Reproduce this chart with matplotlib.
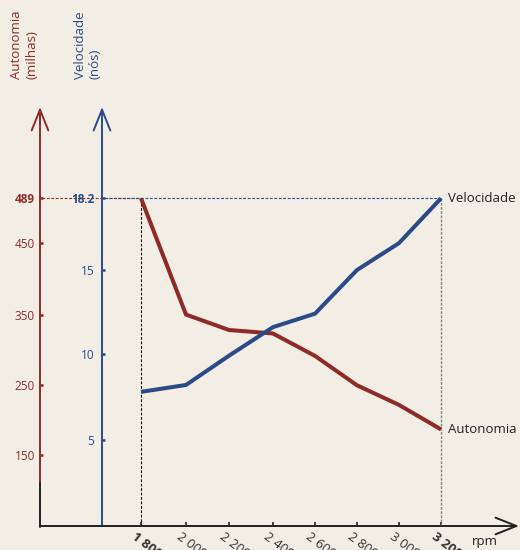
import numpy as np
import matplotlib
matplotlib.use("Agg")
import matplotlib.pyplot as plt
from matplotlib.transforms import ScaledTranslation

# ---- data ----
rpm = [1800, 2000, 2200, 2400, 2600, 2800, 3000, 3200]
rpm_labels = ["1 800", "2 000", "2 200", "2 400", "2 600", "2 800", "3 000", "3 200"]
autonomia = [489, 351, 329, 324, 292, 250, 222, 187]
velocidade = [7.8, 8.2, 9.9, 11.6, 12.4, 15.0, 16.2, 18.2]
auto_ticks = [150, 250, 350, 450, 489]
vel_ticks = [5, 10, 15, 18.2]
vel_tick_labels = ["5", "10", "15", "18.2"]

BG = "#f2ede5"
RED = "#8e2b25"
BLUE = "#2b4a88"
DARK = "#222222"
FONT = "Open Sans"

plt.rcParams['font.family'] = [FONT, 'DejaVu Sans']

# non-uniform axis scales as drawn in the reference
x_vals = [1000, 1800, 2000, 2200, 2400, 2600, 2800, 3000, 3200, 4000]
x_px = [-30.4, 141, 186, 229, 273, 315, 357, 399, 441, 612.4]
a_vals = [0, 150, 250, 350, 450, 489, 800]
a_h = [-34.3, 70.7, 140.7, 210.7, 282.7, 327.7, 686.6]
v_vals = [0, 5, 10, 15, 18.2, 40]
v_h = [0, 86, 172, 256, 327.7, 816]

def x_fwd(v):
    return np.interp(v, x_vals, x_px)
def x_inv(p):
    return np.interp(p, x_px, x_vals)
def a_fwd(v):
    return np.interp(v, a_vals, a_h)
def a_inv(h):
    return np.interp(h, a_h, a_vals)
def v_fwd(v):
    return np.interp(v, v_vals, v_h)
def v_inv(h):
    return np.interp(h, v_h, v_vals)

W, H = 520, 550
fig = plt.figure(figsize=(5.2, 5.5), dpi=100, facecolor=BG)
ax = fig.add_axes([40 / W, 24 / H, 479 / W, 526 / H])
ax.set_facecolor(BG)
ax.set_xscale('function', functions=(x_fwd, x_inv))
ax.set_xlim(float(x_inv(40)), float(x_inv(519)))
ax.set_yscale('function', functions=(a_fwd, a_inv))
ax.set_ylim(float(a_inv(0)), float(a_inv(526)))

ax2 = ax.twinx()
ax2.set_yscale('function', functions=(v_fwd, v_inv))
ax2.set_ylim(0, float(v_inv(526)))
ax2.patch.set_visible(False)

for a in (ax, ax2):
    for s in a.spines.values():
        s.set_visible(False)

# red axis ticks
ax.set_yticks(auto_ticks)
ax.set_yticklabels([str(t) for t in auto_ticks])
ax.tick_params(axis='y', direction='in', length=2.2, width=1.8, color=RED,
               labelcolor=RED, labelsize=8.5, pad=3.6)
for lab in ax.get_yticklabels():
    if lab.get_text() == "489":
        lab.set_fontweight('bold')

# blue axis ticks
ax2.yaxis.set_ticks_position('left')
ax2.yaxis.set_label_position('left')
ax2.spines['left'].set_position(('axes', 62 / 479))
ax2.set_yticks(vel_ticks)
ax2.set_yticklabels(vel_tick_labels)
ax2.tick_params(axis='y', direction='in', length=2.2, width=1.8, color=BLUE,
                labelcolor=BLUE, labelsize=8.5, pad=5.5)
for lab in ax2.get_yticklabels():
    if lab.get_text() == "18.2":
        lab.set_fontweight('bold')

# x ticks
ax.set_xticks(rpm)
ax.set_xticklabels(rpm_labels, rotation=-37, ha='left', va='top',
                   rotation_mode='anchor')
ax.tick_params(axis='x', direction='in', length=3, width=1.2, color=DARK,
               labelcolor="#333333", labelsize=9.5, pad=3)
shift = ScaledTranslation(-4 / 100, 0, fig.dpi_scale_trans)
for lab in ax.get_xticklabels():
    lab.set_transform(lab.get_transform() + shift)
    if lab.get_text() in ("1 800", "3 200"):
        lab.set_fontweight('bold')

# guide lines
ax.hlines(489, float(x_inv(42)), 1800, colors=RED, linestyles=(0, (2.5, 1.5)), lw=0.8)
ax2.hlines(18.2, float(x_inv(105)), 3200, colors=BLUE, linestyles=(0, (2.5, 1.5)), lw=0.8)
ax.vlines(1800, float(a_inv(0)), 489, colors="#111111", linestyles=(0, (2.5, 1.5)), lw=0.8)
ax.vlines(3200, float(a_inv(0)), 489, colors="#888888", linestyles=(0, (2, 1)), lw=1.0)

# data lines
ax.plot(rpm, autonomia, color=RED, lw=2.9, solid_capstyle='butt', zorder=5)
ax2.plot(rpm, velocidade, color=BLUE, lw=2.9, solid_capstyle='butt', zorder=5)

# axis lines with arrows (figure pixels)
def fp(x, y):
    return (x, H - y)
arrow = dict(arrowstyle='->,head_length=1.5,head_width=0.6', lw=1.4, shrinkA=0, shrinkB=0)
ax.annotate('', xy=fp(40, 107), xytext=fp(40, 483), xycoords='figure pixels',
            textcoords='figure pixels', arrowprops=dict(arrow, color=RED))
ax.annotate('', xy=fp(102, 107), xytext=fp(102, 526), xycoords='figure pixels',
            textcoords='figure pixels', arrowprops=dict(arrow, color=BLUE))
ax.annotate('', xy=fp(519, 526), xytext=fp(40, 526), xycoords='figure pixels',
            textcoords='figure pixels', arrowprops=dict(arrow, color=DARK))
ax.annotate('', xy=fp(40, 483), xytext=fp(40, 527), xycoords='figure pixels',
            textcoords='figure pixels', arrowprops=dict(arrowstyle='-', lw=1.4, color=DARK,
                                                         shrinkA=0, shrinkB=0))

# titles (rotated, starting at the same baseline y)
base_y = 1 - 79 / H
fig.text(17 / W, base_y, "Autonomia", rotation=90, color=RED, fontsize=9.5,
         ha='center', va='bottom')
fig.text(32 / W, base_y, "(milhas)", rotation=90, color=RED, fontsize=9.5,
         ha='center', va='bottom')
fig.text(80 / W, base_y, "Velocidade", rotation=90, color=BLUE, fontsize=9.5,
         ha='center', va='bottom')
fig.text(95 / W, base_y, "(nós)", rotation=90, color=BLUE, fontsize=9.5,
         ha='center', va='bottom')

ax.text(3200, 489, "  Velocidade", color=DARK, fontsize=9.5, ha='left', va='center')
ax.text(3200, autonomia[-1], "  Autonomia", color=DARK, fontsize=9.5, ha='left', va='center')
fig.text(472 / W, 1 - 542 / H, "rpm", color=DARK, fontsize=9.5, ha='left', va='center')

fig.savefig("out.png", dpi=100, facecolor=BG)
